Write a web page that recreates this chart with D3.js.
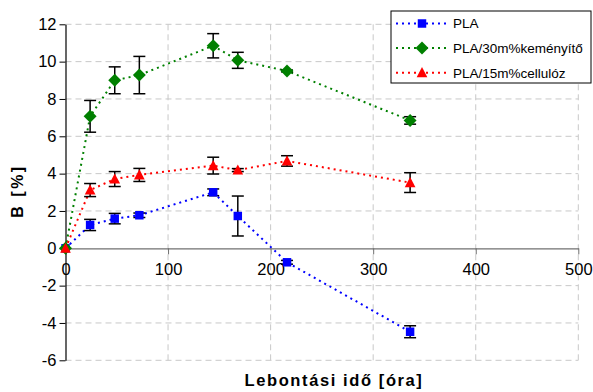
<!DOCTYPE html>
<html>
<head>
<meta charset="utf-8">
<script src="https://cdn.jsdelivr.net/npm/d3@7"></script>
<style>
  body { margin: 0; background: #fff; }
  text { font-family: "Liberation Sans", Arial, sans-serif; }
</style>
</head>
<body>
<script>
// data
const hours = [0, 24, 48, 72, 144, 168, 216, 336];
const pla = [0, 1.25, 1.59, 1.77, 3.0, 1.73, -0.75, -4.47];
const plaErr = [0, 0.3, 0.28, 0.12, 0.18, 1.07, 0.1, 0.32];
const starch = [0, 7.07, 9.0, 9.28, 10.85, 10.07, 9.5, 6.85];
const starchErr = [0, 0.85, 0.72, 1.0, 0.65, 0.43, 0.05, 0.2];
const cell = [0, 3.12, 3.71, 3.93, 4.43, 4.19, 4.68, 3.52];
const cellErr = [0, 0.35, 0.4, 0.35, 0.45, 0.08, 0.28, 0.53];
const xTicks = [0, 100, 200, 300, 400, 500];
const yTicks = [-6, -4, -2, 0, 2, 4, 6, 8, 10, 12];

const series = [
  {name: 'PLA', y: pla, err: plaErr, color: '#0000ff', shape: 'square'},
  {name: 'PLA/30m%keményítő', y: starch, err: starchErr, color: '#008000', shape: 'diamond'},
  {name: 'PLA/15m%cellulóz', y: cell, err: cellErr, color: '#ff0000', shape: 'triangle'}
];

const W = 593, H = 392;
const margin = {left: 65.5, right: 14.7, top: 24.3, bottom: 31.7};
const width = W - margin.left - margin.right;
const height = H - margin.top - margin.bottom;
const font = '"Liberation Sans", Arial, sans-serif';

const svg = d3.select('body').append('svg')
  .attr('width', W)
  .attr('height', H);

const g = svg.append('g')
  .attr('transform', `translate(${margin.left},${margin.top})`);

const x = d3.scaleLinear().domain([0, 500]).range([0, width]);
const y = d3.scaleLinear().domain([-6, 12]).range([height, 0]);

// grid
g.append('g')
  .selectAll('line')
  .data(yTicks.filter(d => d !== 0))
  .enter().append('line')
  .attr('x1', 0).attr('x2', width)
  .attr('y1', d => y(d)).attr('y2', d => y(d))
  .attr('stroke', '#c8c8c8')
  .attr('stroke-dasharray', '6,4');
g.append('g')
  .selectAll('line')
  .data(xTicks.filter(d => d !== 0))
  .enter().append('line')
  .attr('y1', 0).attr('y2', height)
  .attr('x1', d => x(d)).attr('x2', d => x(d))
  .attr('stroke', '#c8c8c8')
  .attr('stroke-dasharray', '6,4');

// axes
const xAxis = d3.axisBottom(x).tickValues(xTicks).tickSize(6).tickSizeOuter(0).tickFormat(d => String(d));
const yAxis = d3.axisLeft(y).tickValues(yTicks).tickSize(6).tickSizeOuter(0).tickFormat(d => String(d));

g.append('g')
  .attr('transform', `translate(0,${y(0)})`)
  .call(xAxis)
  .attr('font-family', font)
  .attr('font-size', 16.5)
  .call(a => a.select('.domain').attr('stroke', '#707070').attr('stroke-width', 1.2))
  .call(a => a.selectAll('.tick line').attr('stroke', '#707070'))
  .call(a => a.selectAll('.tick text')
    .attr('fill', '#000')
    .attr('dy', '1.05em'));

g.append('g')
  .call(yAxis)
  .attr('font-family', font)
  .attr('font-size', 16.5)
  .call(a => a.select('.domain').attr('stroke', '#000').attr('stroke-width', 1.2))
  .call(a => a.selectAll('.tick line').attr('stroke', '#000'))
  .call(a => a.selectAll('.tick text')
    .attr('fill', '#000')
    .attr('x', -9));

// axis titles
svg.append('text')
  .attr('x', 334)
  .attr('y', 386)
  .attr('text-anchor', 'middle')
  .attr('font-weight', 'bold')
  .attr('font-size', '16.5px')
  .attr('letter-spacing', '1.6px')
  .text('Lebontási idő [óra]');

svg.append('text')
  .attr('transform', 'translate(23,191) rotate(-90)')
  .attr('text-anchor', 'middle')
  .attr('font-weight', 'bold')
  .attr('font-size', '16px')
  .attr('letter-spacing', '2.5px')
  .text('B [%]');

// custom marker shapes (Excel-like)
const diamond = {draw(ctx, size) { const r = Math.sqrt(size / 2); ctx.moveTo(0, -r); ctx.lineTo(r, 0); ctx.lineTo(0, r); ctx.lineTo(-r, 0); ctx.closePath(); }};
const triangle = {draw(ctx, size) { const r = Math.sqrt(size) * 0.62; ctx.moveTo(0, -r * 1.05); ctx.lineTo(r, r * 0.85); ctx.lineTo(-r, r * 0.85); ctx.closePath(); }};
const symbolOf = {
  square: d3.symbol().type(d3.symbolSquare).size(72),
  diamond: d3.symbol().type(diamond).size(84),
  triangle: d3.symbol().type(triangle).size(74)
};

const line = d3.line()
  .x((d, i) => x(hours[i]))
  .y(d => y(d));

// lines
series.forEach(s => {
  g.append('path')
    .datum(s.y)
    .attr('d', line)
    .attr('fill', 'none')
    .attr('stroke', s.color)
    .attr('stroke-width', 2)
    .attr('stroke-dasharray', '2,4');
});

// error bars + markers
series.forEach(s => {
  const eb = g.append('g');
  hours.forEach((h, i) => {
    if (!s.err[i]) return;
    const cx = x(h), top = y(s.y[i] + s.err[i]), bot = y(s.y[i] - s.err[i]);
    eb.append('line').attr('x1', cx).attr('x2', cx).attr('y1', top).attr('y2', bot)
      .attr('stroke', '#000').attr('stroke-width', 1.5);
    [top, bot].forEach(v => eb.append('line')
      .attr('x1', cx - 6).attr('x2', cx + 6).attr('y1', v).attr('y2', v)
      .attr('stroke', '#000').attr('stroke-width', 1.5));
  });
});

series.forEach(s => {
  g.append('g')
    .selectAll('path')
    .data(s.y)
    .enter().append('path')
    .attr('d', symbolOf[s.shape])
    .attr('transform', (d, i) => `translate(${x(hours[i])},${y(d)})`)
    .attr('fill', s.color);
});

// legend
const legend = svg.append('g').attr('transform', 'translate(391,11)');
legend.append('rect')
  .attr('width', 200).attr('height', 72)
  .attr('fill', '#fff')
  .attr('stroke', '#000');
series.forEach((s, i) => {
  const ly = 12.5 + i * 24.6;
  legend.append('line')
    .attr('x1', 5).attr('x2', 56)
    .attr('y1', ly).attr('y2', ly)
    .attr('stroke', s.color)
    .attr('stroke-width', 2)
    .attr('stroke-dasharray', '2,4');
  legend.append('path')
    .attr('d', symbolOf[s.shape])
    .attr('transform', `translate(31,${ly})`)
    .attr('fill', s.color);
  legend.append('text')
    .attr('x', 62)
    .attr('y', ly)
    .attr('dy', '0.36em')
    .attr('font-size', '13.5px')
    .text(s.name);
});
</script>
</body>
</html>
